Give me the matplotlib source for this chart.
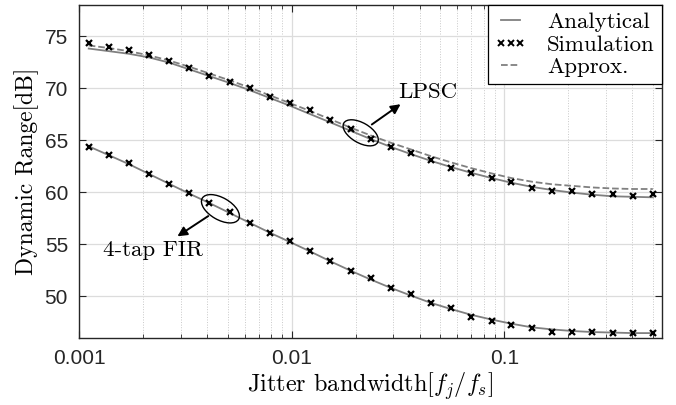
import matplotlib
matplotlib.use("Agg")
import matplotlib.pyplot as plt
import matplotlib.transforms as mtransforms
from matplotlib.patches import Ellipse
from matplotlib.ticker import LogLocator, NullFormatter, FixedLocator, FixedFormatter

plt.rcParams['mathtext.fontset'] = 'cm'

# Jitter bandwidth f_j/f_s
jitter_bw = [0.00111, 0.00138, 0.00171, 0.00213, 0.00265, 0.0033, 0.0041, 0.0051,
             0.00634, 0.00789, 0.00982, 0.0122, 0.0152, 0.0189, 0.0235, 0.0292,
             0.0364, 0.0452, 0.0563, 0.070, 0.0871, 0.108, 0.135, 0.168, 0.209,
             0.259, 0.323, 0.401, 0.499]

# LPSC curves
lpsc_sim = [74.3, 73.94, 73.62, 73.2, 72.6, 71.96, 71.2, 70.6, 69.97, 69.17,
            68.53, 67.86, 66.9, 66.03, 65.13, 64.37, 63.8, 63.08, 62.35, 61.8,
            61.38, 61.0, 60.42, 60.1, 60.13, 59.84, 59.84, 59.6, 59.78]
lpsc_analytical = [73.8, 73.55, 73.3, 72.95, 72.45, 71.8, 71.15, 70.5, 69.8, 69.05,
                   68.3, 67.5, 66.7, 65.9, 65.1, 64.35, 63.65, 63.0, 62.4, 61.85,
                   61.35, 60.9, 60.5, 60.2, 59.95, 59.75, 59.6, 59.55, 59.5]
lpsc_approx = [74.1, 73.85, 73.55, 73.15, 72.65, 72.05, 71.4, 70.75, 70.05, 69.3,
               68.55, 67.8, 67.0, 66.2, 65.45, 64.75, 64.1, 63.45, 62.85, 62.3,
               61.8, 61.35, 61.0, 60.75, 60.6, 60.45, 60.35, 60.3, 60.3]

# 4-tap FIR curves
fir_sim = [64.37, 63.53, 62.76, 61.7, 60.8, 59.87, 58.98, 58.08, 57.06, 56.1,
           55.3, 54.33, 53.37, 52.4, 51.77, 50.8, 50.23, 49.37, 48.88, 48.0,
           47.6, 47.24, 46.92, 46.6, 46.6, 46.54, 46.5, 46.44, 46.44]
fir_analytical = [64.4, 63.55, 62.7, 61.75, 60.8, 59.85, 58.95, 58.0, 57.05, 56.1,
                  55.2, 54.3, 53.35, 52.45, 51.6, 50.8, 50.05, 49.35, 48.75, 48.2,
                  47.75, 47.35, 47.0, 46.8, 46.65, 46.55, 46.5, 46.45, 46.45]

x_ticks = [0.001, 0.01, 0.1]
x_tick_labels = ['0.001', '0.01', '0.1']
y_ticks = [50, 55, 60, 65, 70, 75]

serif = 'cmr10'
line_col = '#808080'
axis_col = '#262626'

fig = plt.figure(figsize=(6.76, 4.05), dpi=100)
ax = fig.add_axes([0.117, 0.166, 0.862, 0.822])

# Lines and markers
ax.plot(jitter_bw, lpsc_analytical, '-', color=line_col, lw=1.3, label='Analytical', zorder=3)
ax.plot(jitter_bw, lpsc_sim, 'x', color='black', ms=4.8, mew=1.6, label='Simulation', zorder=4)
ax.plot(jitter_bw, lpsc_approx, '--', color=line_col, lw=1.3, label='Approx.', zorder=3)
ax.plot(jitter_bw, fir_analytical, '-', color=line_col, lw=1.3, zorder=3)
ax.plot(jitter_bw, fir_sim, 'x', color='black', ms=4.8, mew=1.6, zorder=4)

ax.set_xscale('log')
ax.set_xlim(0.001, 0.55)
ax.set_ylim(46, 78)

ax.xaxis.set_major_locator(FixedLocator(x_ticks))
ax.xaxis.set_major_formatter(FixedFormatter(x_tick_labels))
ax.xaxis.set_minor_locator(LogLocator(base=10, subs=range(2, 10)))
ax.xaxis.set_minor_formatter(NullFormatter())
ax.set_yticks(y_ticks)

for lab in ax.get_xticklabels() + ax.get_yticklabels():
    lab.set_family('Liberation Sans')
ax.tick_params(which='both', direction='in', top=True, right=True,
               colors=axis_col, labelsize=15)
ax.tick_params(which='major', length=5, width=0.8, pad=8)
ax.tick_params(which='minor', length=3, width=0.6)
for s in ax.spines.values():
    s.set_color(axis_col)
    s.set_linewidth(1.0)

ax.grid(True, which='major', color='#dcdcdc', lw=0.9, ls='-', zorder=0)
ax.grid(True, which='minor', color='#c8c8c8', lw=0.7, ls=':', zorder=0)
ax.set_axisbelow(True)

ax.set_xlabel(r'Jitter bandwidth$[f_j/f_s]$', family=serif, fontsize=17.5, labelpad=2)
ax.set_ylabel('Dynamic Range[dB]', family=serif, fontsize=17, labelpad=4)

# Legend
leg = ax.legend(loc='upper right', numpoints=3, fancybox=False, framealpha=1,
                edgecolor='black', borderaxespad=0.0, handlelength=1.4,
                prop={'family': serif, 'size': 16.5}, labelspacing=0.12,
                borderpad=0.3, handletextpad=0.9)
leg.get_frame().set_linewidth(0.9)
leg.legend_handles[1].set_markersize(4)
leg.legend_handles[1].set_markeredgewidth(1.4)


def ring(x, y, w, h, ang):
    # ellipse sized in inches, centred on a data point
    tr = fig.dpi_scale_trans + mtransforms.ScaledTranslation(x, y, ax.transData)
    ax.add_patch(Ellipse((0, 0), w, h, angle=ang, fill=False, ec='black',
                         lw=1.0, transform=tr, zorder=5))


# LPSC annotation
ring(0.0211, 65.7, 0.39, 0.20, -30)
ax.annotate('', xy=(0.0325, 68.45), xytext=(0.0238, 66.5),
            arrowprops=dict(arrowstyle='-|>', color='black', lw=1.4,
                            mutation_scale=14, shrinkA=0, shrinkB=0))
ax.text(0.0436, 69.6, 'LPSC', family=serif, fontsize=16.5, ha='center', va='center')

# 4-tap FIR annotation
ring(0.00462, 58.4, 0.42, 0.22, -30)
ax.annotate('', xy=(0.0029, 55.75), xytext=(0.00405, 57.7),
            arrowprops=dict(arrowstyle='-|>', color='black', lw=1.4,
                            mutation_scale=14, shrinkA=0, shrinkB=0))
ax.text(0.00223, 54.45, '4-tap FIR', family=serif, fontsize=16.5, ha='center', va='center')

fig.savefig('out.png', dpi=100)
